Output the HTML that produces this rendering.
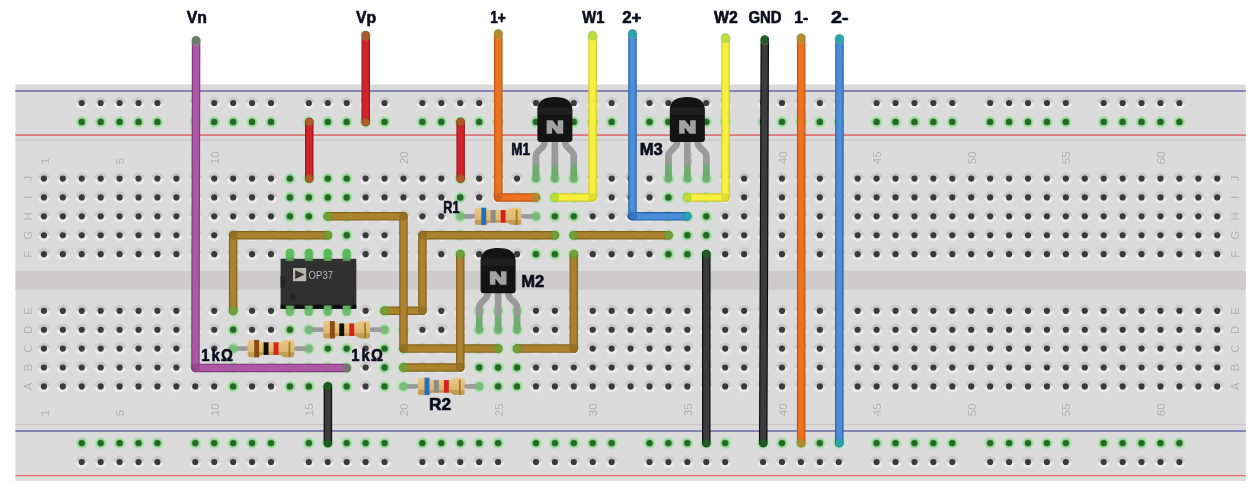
<!DOCTYPE html>
<html lang="en"><head><meta charset="utf-8"><title>Breadboard</title>
<style>html,body{margin:0;padding:0;background:#fff}svg{display:block;will-change:transform}</style></head>
<body>
<svg width="1260" height="496" viewBox="0 0 1260 496" font-family="'Liberation Sans', sans-serif">
<defs>
<linearGradient id="hg" x1="0" y1="0" x2="0" y2="1"><stop offset="0" stop-color="#c8c8c8"/><stop offset="0.4" stop-color="#cbcbcb"/><stop offset="0.6" stop-color="#ebebeb"/><stop offset="1" stop-color="#e9e9e9"/></linearGradient>
<radialGradient id="gg"><stop offset="0" stop-color="#6fbf6f"/><stop offset="0.6" stop-color="#98d098"/><stop offset="0.82" stop-color="#b9e0b9"/><stop offset="1" stop-color="#d6e2d6"/></radialGradient>
<g id="h"><circle r="6.1" fill="url(#hg)"/><circle r="3.1" fill="#3a3a3a"/></g>
<g id="g"><circle r="6.6" fill="url(#gg)"/><circle r="3.2" fill="#236b23"/></g>
<linearGradient id="rb" x1="0" y1="0" x2="0" y2="1"><stop offset="0" stop-color="#e9c682"/><stop offset="0.7" stop-color="#deb870"/><stop offset="0.72" stop-color="#c39c55"/><stop offset="1" stop-color="#c39c55"/></linearGradient>
<linearGradient id="leg" x1="0" y1="0" x2="0" y2="1"><stop offset="0" stop-color="#9a9a9a"/><stop offset="0.25" stop-color="#9a9a9a"/><stop offset="0.5" stop-color="#6fae6f"/><stop offset="1" stop-color="#6aaa6a"/></linearGradient>
</defs>
<rect width="1260" height="496" fill="#fff"/>
<rect x="15.4" y="84.4" width="1230.4" height="396.6" fill="#dbdbdb"/>
<rect x="15.4" y="271" width="1230.4" height="18.8" fill="#cdcbcb"/>
<rect x="15.4" y="139" width="1230.4" height="1.7" fill="#cccaca"/>
<rect x="15.4" y="423.9" width="1230.4" height="1.4" fill="#c9c6c8"/>
<rect x="15.4" y="90.25" width="1230.4" height="1.5" fill="#6868aa"/>
<rect x="15.4" y="430.25" width="1230.4" height="1.5" fill="#6868aa"/>
<rect x="15.4" y="134.25" width="1230.4" height="1.7" fill="#dc7472"/>
<rect x="15.4" y="474.95" width="1230.4" height="1.3" fill="#df7064"/>
<g font-size="11.5" fill="#b2b2b2"><text transform="translate(48.5,164.2) rotate(-90)">1</text><text transform="translate(48.5,416.2) rotate(-90)">1</text><text transform="translate(124.2,164.2) rotate(-90)">5</text><text transform="translate(124.2,416.2) rotate(-90)">5</text><text transform="translate(218.83,164.2) rotate(-90)">10</text><text transform="translate(218.83,416.2) rotate(-90)">10</text><text transform="translate(313.45,164.2) rotate(-90)">15</text><text transform="translate(313.45,416.2) rotate(-90)">15</text><text transform="translate(408.07,164.2) rotate(-90)">20</text><text transform="translate(408.07,416.2) rotate(-90)">20</text><text transform="translate(502.7,164.2) rotate(-90)">25</text><text transform="translate(502.7,416.2) rotate(-90)">25</text><text transform="translate(597.33,164.2) rotate(-90)">30</text><text transform="translate(597.33,416.2) rotate(-90)">30</text><text transform="translate(691.95,164.2) rotate(-90)">35</text><text transform="translate(691.95,416.2) rotate(-90)">35</text><text transform="translate(786.58,164.2) rotate(-90)">40</text><text transform="translate(786.58,416.2) rotate(-90)">40</text><text transform="translate(881.2,164.2) rotate(-90)">45</text><text transform="translate(881.2,416.2) rotate(-90)">45</text><text transform="translate(975.83,164.2) rotate(-90)">50</text><text transform="translate(975.83,416.2) rotate(-90)">50</text><text transform="translate(1070.45,164.2) rotate(-90)">55</text><text transform="translate(1070.45,416.2) rotate(-90)">55</text><text transform="translate(1165.08,164.2) rotate(-90)">60</text><text transform="translate(1165.08,416.2) rotate(-90)">60</text><text text-anchor="middle" transform="translate(31.5,178.58) rotate(-90)">J</text><text text-anchor="middle" transform="translate(1239.2,178.58) rotate(-90)">J</text><text text-anchor="middle" transform="translate(31.5,197.47) rotate(-90)">I</text><text text-anchor="middle" transform="translate(1239.2,197.47) rotate(-90)">I</text><text text-anchor="middle" transform="translate(31.5,216.36) rotate(-90)">H</text><text text-anchor="middle" transform="translate(1239.2,216.36) rotate(-90)">H</text><text text-anchor="middle" transform="translate(31.5,235.26) rotate(-90)">G</text><text text-anchor="middle" transform="translate(1239.2,235.26) rotate(-90)">G</text><text text-anchor="middle" transform="translate(31.5,254.15) rotate(-90)">F</text><text text-anchor="middle" transform="translate(1239.2,254.15) rotate(-90)">F</text><text text-anchor="middle" transform="translate(31.5,310.83) rotate(-90)">E</text><text text-anchor="middle" transform="translate(1239.2,310.83) rotate(-90)">E</text><text text-anchor="middle" transform="translate(31.5,329.73) rotate(-90)">D</text><text text-anchor="middle" transform="translate(1239.2,329.73) rotate(-90)">D</text><text text-anchor="middle" transform="translate(31.5,348.62) rotate(-90)">C</text><text text-anchor="middle" transform="translate(1239.2,348.62) rotate(-90)">C</text><text text-anchor="middle" transform="translate(31.5,367.52) rotate(-90)">B</text><text text-anchor="middle" transform="translate(1239.2,367.52) rotate(-90)">B</text><text text-anchor="middle" transform="translate(31.5,386.41) rotate(-90)">A</text><text text-anchor="middle" transform="translate(1239.2,386.41) rotate(-90)">A</text></g>
<g><use href="#h" x="81.75" y="103"/><use href="#g" x="81.75" y="121.89"/><use href="#g" x="81.75" y="443.09"/><use href="#h" x="81.75" y="461.99"/><use href="#h" x="100.68" y="103"/><use href="#g" x="100.68" y="121.89"/><use href="#g" x="100.68" y="443.09"/><use href="#h" x="100.68" y="461.99"/><use href="#h" x="119.6" y="103"/><use href="#g" x="119.6" y="121.89"/><use href="#g" x="119.6" y="443.09"/><use href="#h" x="119.6" y="461.99"/><use href="#h" x="138.53" y="103"/><use href="#g" x="138.53" y="121.89"/><use href="#g" x="138.53" y="443.09"/><use href="#h" x="138.53" y="461.99"/><use href="#h" x="157.45" y="103"/><use href="#g" x="157.45" y="121.89"/><use href="#g" x="157.45" y="443.09"/><use href="#h" x="157.45" y="461.99"/><use href="#h" x="195.3" y="103"/><use href="#g" x="195.3" y="121.89"/><use href="#g" x="195.3" y="443.09"/><use href="#h" x="195.3" y="461.99"/><use href="#h" x="214.23" y="103"/><use href="#g" x="214.23" y="121.89"/><use href="#g" x="214.23" y="443.09"/><use href="#h" x="214.23" y="461.99"/><use href="#h" x="233.15" y="103"/><use href="#g" x="233.15" y="121.89"/><use href="#g" x="233.15" y="443.09"/><use href="#h" x="233.15" y="461.99"/><use href="#h" x="252.08" y="103"/><use href="#g" x="252.08" y="121.89"/><use href="#g" x="252.08" y="443.09"/><use href="#h" x="252.08" y="461.99"/><use href="#h" x="271" y="103"/><use href="#g" x="271" y="121.89"/><use href="#g" x="271" y="443.09"/><use href="#h" x="271" y="461.99"/><use href="#h" x="308.85" y="103"/><use href="#g" x="308.85" y="121.89"/><use href="#g" x="308.85" y="443.09"/><use href="#h" x="308.85" y="461.99"/><use href="#h" x="327.77" y="103"/><use href="#g" x="327.77" y="121.89"/><use href="#g" x="327.77" y="443.09"/><use href="#h" x="327.77" y="461.99"/><use href="#h" x="346.7" y="103"/><use href="#g" x="346.7" y="121.89"/><use href="#g" x="346.7" y="443.09"/><use href="#h" x="346.7" y="461.99"/><use href="#h" x="365.62" y="103"/><use href="#g" x="365.62" y="121.89"/><use href="#g" x="365.62" y="443.09"/><use href="#h" x="365.62" y="461.99"/><use href="#h" x="384.55" y="103"/><use href="#g" x="384.55" y="121.89"/><use href="#g" x="384.55" y="443.09"/><use href="#h" x="384.55" y="461.99"/><use href="#h" x="422.4" y="103"/><use href="#g" x="422.4" y="121.89"/><use href="#g" x="422.4" y="443.09"/><use href="#h" x="422.4" y="461.99"/><use href="#h" x="441.32" y="103"/><use href="#g" x="441.32" y="121.89"/><use href="#g" x="441.32" y="443.09"/><use href="#h" x="441.32" y="461.99"/><use href="#h" x="460.25" y="103"/><use href="#g" x="460.25" y="121.89"/><use href="#g" x="460.25" y="443.09"/><use href="#h" x="460.25" y="461.99"/><use href="#h" x="479.18" y="103"/><use href="#g" x="479.18" y="121.89"/><use href="#g" x="479.18" y="443.09"/><use href="#h" x="479.18" y="461.99"/><use href="#h" x="498.1" y="103"/><use href="#g" x="498.1" y="121.89"/><use href="#g" x="498.1" y="443.09"/><use href="#h" x="498.1" y="461.99"/><use href="#h" x="535.95" y="103"/><use href="#g" x="535.95" y="121.89"/><use href="#g" x="535.95" y="443.09"/><use href="#h" x="535.95" y="461.99"/><use href="#h" x="554.88" y="103"/><use href="#g" x="554.88" y="121.89"/><use href="#g" x="554.88" y="443.09"/><use href="#h" x="554.88" y="461.99"/><use href="#h" x="573.8" y="103"/><use href="#g" x="573.8" y="121.89"/><use href="#g" x="573.8" y="443.09"/><use href="#h" x="573.8" y="461.99"/><use href="#h" x="592.73" y="103"/><use href="#g" x="592.73" y="121.89"/><use href="#g" x="592.73" y="443.09"/><use href="#h" x="592.73" y="461.99"/><use href="#h" x="611.65" y="103"/><use href="#g" x="611.65" y="121.89"/><use href="#g" x="611.65" y="443.09"/><use href="#h" x="611.65" y="461.99"/><use href="#h" x="649.5" y="103"/><use href="#g" x="649.5" y="121.89"/><use href="#g" x="649.5" y="443.09"/><use href="#h" x="649.5" y="461.99"/><use href="#h" x="668.42" y="103"/><use href="#g" x="668.42" y="121.89"/><use href="#g" x="668.42" y="443.09"/><use href="#h" x="668.42" y="461.99"/><use href="#h" x="687.35" y="103"/><use href="#g" x="687.35" y="121.89"/><use href="#g" x="687.35" y="443.09"/><use href="#h" x="687.35" y="461.99"/><use href="#h" x="706.27" y="103"/><use href="#g" x="706.27" y="121.89"/><use href="#g" x="706.27" y="443.09"/><use href="#h" x="706.27" y="461.99"/><use href="#h" x="725.2" y="103"/><use href="#g" x="725.2" y="121.89"/><use href="#g" x="725.2" y="443.09"/><use href="#h" x="725.2" y="461.99"/><use href="#h" x="763.05" y="103"/><use href="#g" x="763.05" y="121.89"/><use href="#g" x="763.05" y="443.09"/><use href="#h" x="763.05" y="461.99"/><use href="#h" x="781.98" y="103"/><use href="#g" x="781.98" y="121.89"/><use href="#g" x="781.98" y="443.09"/><use href="#h" x="781.98" y="461.99"/><use href="#h" x="800.9" y="103"/><use href="#g" x="800.9" y="121.89"/><use href="#g" x="800.9" y="443.09"/><use href="#h" x="800.9" y="461.99"/><use href="#h" x="819.83" y="103"/><use href="#g" x="819.83" y="121.89"/><use href="#g" x="819.83" y="443.09"/><use href="#h" x="819.83" y="461.99"/><use href="#h" x="838.75" y="103"/><use href="#g" x="838.75" y="121.89"/><use href="#g" x="838.75" y="443.09"/><use href="#h" x="838.75" y="461.99"/><use href="#h" x="876.6" y="103"/><use href="#g" x="876.6" y="121.89"/><use href="#g" x="876.6" y="443.09"/><use href="#h" x="876.6" y="461.99"/><use href="#h" x="895.52" y="103"/><use href="#g" x="895.52" y="121.89"/><use href="#g" x="895.52" y="443.09"/><use href="#h" x="895.52" y="461.99"/><use href="#h" x="914.45" y="103"/><use href="#g" x="914.45" y="121.89"/><use href="#g" x="914.45" y="443.09"/><use href="#h" x="914.45" y="461.99"/><use href="#h" x="933.38" y="103"/><use href="#g" x="933.38" y="121.89"/><use href="#g" x="933.38" y="443.09"/><use href="#h" x="933.38" y="461.99"/><use href="#h" x="952.3" y="103"/><use href="#g" x="952.3" y="121.89"/><use href="#g" x="952.3" y="443.09"/><use href="#h" x="952.3" y="461.99"/><use href="#h" x="990.15" y="103"/><use href="#g" x="990.15" y="121.89"/><use href="#g" x="990.15" y="443.09"/><use href="#h" x="990.15" y="461.99"/><use href="#h" x="1009.08" y="103"/><use href="#g" x="1009.08" y="121.89"/><use href="#g" x="1009.08" y="443.09"/><use href="#h" x="1009.08" y="461.99"/><use href="#h" x="1028" y="103"/><use href="#g" x="1028" y="121.89"/><use href="#g" x="1028" y="443.09"/><use href="#h" x="1028" y="461.99"/><use href="#h" x="1046.93" y="103"/><use href="#g" x="1046.93" y="121.89"/><use href="#g" x="1046.93" y="443.09"/><use href="#h" x="1046.93" y="461.99"/><use href="#h" x="1065.85" y="103"/><use href="#g" x="1065.85" y="121.89"/><use href="#g" x="1065.85" y="443.09"/><use href="#h" x="1065.85" y="461.99"/><use href="#h" x="1103.7" y="103"/><use href="#g" x="1103.7" y="121.89"/><use href="#g" x="1103.7" y="443.09"/><use href="#h" x="1103.7" y="461.99"/><use href="#h" x="1122.63" y="103"/><use href="#g" x="1122.63" y="121.89"/><use href="#g" x="1122.63" y="443.09"/><use href="#h" x="1122.63" y="461.99"/><use href="#h" x="1141.55" y="103"/><use href="#g" x="1141.55" y="121.89"/><use href="#g" x="1141.55" y="443.09"/><use href="#h" x="1141.55" y="461.99"/><use href="#h" x="1160.48" y="103"/><use href="#g" x="1160.48" y="121.89"/><use href="#g" x="1160.48" y="443.09"/><use href="#h" x="1160.48" y="461.99"/><use href="#h" x="1179.4" y="103"/><use href="#g" x="1179.4" y="121.89"/><use href="#g" x="1179.4" y="443.09"/><use href="#h" x="1179.4" y="461.99"/><use href="#h" x="43.9" y="178.58"/><use href="#h" x="43.9" y="197.47"/><use href="#h" x="43.9" y="216.36"/><use href="#h" x="43.9" y="235.26"/><use href="#h" x="43.9" y="254.15"/><use href="#h" x="43.9" y="310.83"/><use href="#h" x="43.9" y="329.73"/><use href="#h" x="43.9" y="348.62"/><use href="#h" x="43.9" y="367.52"/><use href="#h" x="43.9" y="386.41"/><use href="#h" x="62.83" y="178.58"/><use href="#h" x="62.83" y="197.47"/><use href="#h" x="62.83" y="216.36"/><use href="#h" x="62.83" y="235.26"/><use href="#h" x="62.83" y="254.15"/><use href="#h" x="62.83" y="310.83"/><use href="#h" x="62.83" y="329.73"/><use href="#h" x="62.83" y="348.62"/><use href="#h" x="62.83" y="367.52"/><use href="#h" x="62.83" y="386.41"/><use href="#h" x="81.75" y="178.58"/><use href="#h" x="81.75" y="197.47"/><use href="#h" x="81.75" y="216.36"/><use href="#h" x="81.75" y="235.26"/><use href="#h" x="81.75" y="254.15"/><use href="#h" x="81.75" y="310.83"/><use href="#h" x="81.75" y="329.73"/><use href="#h" x="81.75" y="348.62"/><use href="#h" x="81.75" y="367.52"/><use href="#h" x="81.75" y="386.41"/><use href="#h" x="100.68" y="178.58"/><use href="#h" x="100.68" y="197.47"/><use href="#h" x="100.68" y="216.36"/><use href="#h" x="100.68" y="235.26"/><use href="#h" x="100.68" y="254.15"/><use href="#h" x="100.68" y="310.83"/><use href="#h" x="100.68" y="329.73"/><use href="#h" x="100.68" y="348.62"/><use href="#h" x="100.68" y="367.52"/><use href="#h" x="100.68" y="386.41"/><use href="#h" x="119.6" y="178.58"/><use href="#h" x="119.6" y="197.47"/><use href="#h" x="119.6" y="216.36"/><use href="#h" x="119.6" y="235.26"/><use href="#h" x="119.6" y="254.15"/><use href="#h" x="119.6" y="310.83"/><use href="#h" x="119.6" y="329.73"/><use href="#h" x="119.6" y="348.62"/><use href="#h" x="119.6" y="367.52"/><use href="#h" x="119.6" y="386.41"/><use href="#h" x="138.53" y="178.58"/><use href="#h" x="138.53" y="197.47"/><use href="#h" x="138.53" y="216.36"/><use href="#h" x="138.53" y="235.26"/><use href="#h" x="138.53" y="254.15"/><use href="#h" x="138.53" y="310.83"/><use href="#h" x="138.53" y="329.73"/><use href="#h" x="138.53" y="348.62"/><use href="#h" x="138.53" y="367.52"/><use href="#h" x="138.53" y="386.41"/><use href="#h" x="157.45" y="178.58"/><use href="#h" x="157.45" y="197.47"/><use href="#h" x="157.45" y="216.36"/><use href="#h" x="157.45" y="235.26"/><use href="#h" x="157.45" y="254.15"/><use href="#h" x="157.45" y="310.83"/><use href="#h" x="157.45" y="329.73"/><use href="#h" x="157.45" y="348.62"/><use href="#h" x="157.45" y="367.52"/><use href="#h" x="157.45" y="386.41"/><use href="#h" x="176.38" y="178.58"/><use href="#h" x="176.38" y="197.47"/><use href="#h" x="176.38" y="216.36"/><use href="#h" x="176.38" y="235.26"/><use href="#h" x="176.38" y="254.15"/><use href="#h" x="176.38" y="310.83"/><use href="#h" x="176.38" y="329.73"/><use href="#h" x="176.38" y="348.62"/><use href="#h" x="176.38" y="367.52"/><use href="#h" x="176.38" y="386.41"/><use href="#h" x="195.3" y="178.58"/><use href="#h" x="195.3" y="197.47"/><use href="#h" x="195.3" y="216.36"/><use href="#h" x="195.3" y="235.26"/><use href="#h" x="195.3" y="254.15"/><use href="#h" x="195.3" y="310.83"/><use href="#h" x="195.3" y="329.73"/><use href="#h" x="195.3" y="348.62"/><use href="#h" x="195.3" y="367.52"/><use href="#h" x="195.3" y="386.41"/><use href="#h" x="214.23" y="178.58"/><use href="#h" x="214.23" y="197.47"/><use href="#h" x="214.23" y="216.36"/><use href="#h" x="214.23" y="235.26"/><use href="#h" x="214.23" y="254.15"/><use href="#h" x="214.23" y="310.83"/><use href="#h" x="214.23" y="329.73"/><use href="#h" x="214.23" y="348.62"/><use href="#h" x="214.23" y="367.52"/><use href="#h" x="214.23" y="386.41"/><use href="#h" x="233.15" y="178.58"/><use href="#h" x="233.15" y="197.47"/><use href="#h" x="233.15" y="216.36"/><use href="#h" x="233.15" y="235.26"/><use href="#h" x="233.15" y="254.15"/><use href="#g" x="233.15" y="310.83"/><use href="#g" x="233.15" y="329.73"/><use href="#g" x="233.15" y="348.62"/><use href="#g" x="233.15" y="367.52"/><use href="#g" x="233.15" y="386.41"/><use href="#h" x="252.08" y="178.58"/><use href="#h" x="252.08" y="197.47"/><use href="#h" x="252.08" y="216.36"/><use href="#h" x="252.08" y="235.26"/><use href="#h" x="252.08" y="254.15"/><use href="#h" x="252.08" y="310.83"/><use href="#h" x="252.08" y="329.73"/><use href="#h" x="252.08" y="348.62"/><use href="#h" x="252.08" y="367.52"/><use href="#h" x="252.08" y="386.41"/><use href="#h" x="271" y="178.58"/><use href="#h" x="271" y="197.47"/><use href="#h" x="271" y="216.36"/><use href="#h" x="271" y="235.26"/><use href="#h" x="271" y="254.15"/><use href="#h" x="271" y="310.83"/><use href="#h" x="271" y="329.73"/><use href="#h" x="271" y="348.62"/><use href="#h" x="271" y="367.52"/><use href="#h" x="271" y="386.41"/><use href="#g" x="289.93" y="178.58"/><use href="#g" x="289.93" y="197.47"/><use href="#g" x="289.93" y="216.36"/><use href="#g" x="289.93" y="235.26"/><use href="#g" x="289.93" y="254.15"/><use href="#g" x="289.93" y="310.83"/><use href="#g" x="289.93" y="329.73"/><use href="#g" x="289.93" y="348.62"/><use href="#g" x="289.93" y="367.52"/><use href="#g" x="289.93" y="386.41"/><use href="#g" x="308.85" y="178.58"/><use href="#g" x="308.85" y="197.47"/><use href="#g" x="308.85" y="216.36"/><use href="#g" x="308.85" y="235.26"/><use href="#g" x="308.85" y="254.15"/><use href="#g" x="308.85" y="310.83"/><use href="#g" x="308.85" y="329.73"/><use href="#g" x="308.85" y="348.62"/><use href="#g" x="308.85" y="367.52"/><use href="#g" x="308.85" y="386.41"/><use href="#g" x="327.77" y="178.58"/><use href="#g" x="327.77" y="197.47"/><use href="#g" x="327.77" y="216.36"/><use href="#g" x="327.77" y="235.26"/><use href="#g" x="327.77" y="254.15"/><use href="#g" x="327.77" y="310.83"/><use href="#g" x="327.77" y="329.73"/><use href="#g" x="327.77" y="348.62"/><use href="#g" x="327.77" y="367.52"/><use href="#g" x="327.77" y="386.41"/><use href="#g" x="346.7" y="178.58"/><use href="#g" x="346.7" y="197.47"/><use href="#g" x="346.7" y="216.36"/><use href="#g" x="346.7" y="235.26"/><use href="#g" x="346.7" y="254.15"/><use href="#g" x="346.7" y="310.83"/><use href="#g" x="346.7" y="329.73"/><use href="#g" x="346.7" y="348.62"/><use href="#g" x="346.7" y="367.52"/><use href="#g" x="346.7" y="386.41"/><use href="#h" x="365.62" y="178.58"/><use href="#h" x="365.62" y="197.47"/><use href="#h" x="365.62" y="216.36"/><use href="#h" x="365.62" y="235.26"/><use href="#h" x="365.62" y="254.15"/><use href="#h" x="365.62" y="310.83"/><use href="#h" x="365.62" y="329.73"/><use href="#h" x="365.62" y="348.62"/><use href="#h" x="365.62" y="367.52"/><use href="#h" x="365.62" y="386.41"/><use href="#h" x="384.55" y="178.58"/><use href="#h" x="384.55" y="197.47"/><use href="#h" x="384.55" y="216.36"/><use href="#h" x="384.55" y="235.26"/><use href="#h" x="384.55" y="254.15"/><use href="#g" x="384.55" y="310.83"/><use href="#g" x="384.55" y="329.73"/><use href="#g" x="384.55" y="348.62"/><use href="#g" x="384.55" y="367.52"/><use href="#g" x="384.55" y="386.41"/><use href="#h" x="403.47" y="178.58"/><use href="#h" x="403.47" y="197.47"/><use href="#h" x="403.47" y="216.36"/><use href="#h" x="403.47" y="235.26"/><use href="#h" x="403.47" y="254.15"/><use href="#g" x="403.47" y="310.83"/><use href="#g" x="403.47" y="329.73"/><use href="#g" x="403.47" y="348.62"/><use href="#g" x="403.47" y="367.52"/><use href="#g" x="403.47" y="386.41"/><use href="#h" x="422.4" y="178.58"/><use href="#h" x="422.4" y="197.47"/><use href="#h" x="422.4" y="216.36"/><use href="#h" x="422.4" y="235.26"/><use href="#h" x="422.4" y="254.15"/><use href="#h" x="422.4" y="310.83"/><use href="#h" x="422.4" y="329.73"/><use href="#h" x="422.4" y="348.62"/><use href="#h" x="422.4" y="367.52"/><use href="#h" x="422.4" y="386.41"/><use href="#h" x="441.32" y="178.58"/><use href="#h" x="441.32" y="197.47"/><use href="#h" x="441.32" y="216.36"/><use href="#h" x="441.32" y="235.26"/><use href="#h" x="441.32" y="254.15"/><use href="#h" x="441.32" y="310.83"/><use href="#h" x="441.32" y="329.73"/><use href="#h" x="441.32" y="348.62"/><use href="#h" x="441.32" y="367.52"/><use href="#h" x="441.32" y="386.41"/><use href="#g" x="460.25" y="178.58"/><use href="#g" x="460.25" y="197.47"/><use href="#g" x="460.25" y="216.36"/><use href="#g" x="460.25" y="235.26"/><use href="#g" x="460.25" y="254.15"/><use href="#h" x="460.25" y="310.83"/><use href="#h" x="460.25" y="329.73"/><use href="#h" x="460.25" y="348.62"/><use href="#h" x="460.25" y="367.52"/><use href="#h" x="460.25" y="386.41"/><use href="#h" x="479.18" y="178.58"/><use href="#h" x="479.18" y="197.47"/><use href="#h" x="479.18" y="216.36"/><use href="#h" x="479.18" y="235.26"/><use href="#h" x="479.18" y="254.15"/><use href="#g" x="479.18" y="310.83"/><use href="#g" x="479.18" y="329.73"/><use href="#g" x="479.18" y="348.62"/><use href="#g" x="479.18" y="367.52"/><use href="#g" x="479.18" y="386.41"/><use href="#h" x="498.1" y="178.58"/><use href="#h" x="498.1" y="197.47"/><use href="#h" x="498.1" y="216.36"/><use href="#h" x="498.1" y="235.26"/><use href="#h" x="498.1" y="254.15"/><use href="#g" x="498.1" y="310.83"/><use href="#g" x="498.1" y="329.73"/><use href="#g" x="498.1" y="348.62"/><use href="#g" x="498.1" y="367.52"/><use href="#g" x="498.1" y="386.41"/><use href="#h" x="517.02" y="178.58"/><use href="#h" x="517.02" y="197.47"/><use href="#h" x="517.02" y="216.36"/><use href="#h" x="517.02" y="235.26"/><use href="#h" x="517.02" y="254.15"/><use href="#g" x="517.02" y="310.83"/><use href="#g" x="517.02" y="329.73"/><use href="#g" x="517.02" y="348.62"/><use href="#g" x="517.02" y="367.52"/><use href="#g" x="517.02" y="386.41"/><use href="#g" x="535.95" y="178.58"/><use href="#g" x="535.95" y="197.47"/><use href="#g" x="535.95" y="216.36"/><use href="#g" x="535.95" y="235.26"/><use href="#g" x="535.95" y="254.15"/><use href="#h" x="535.95" y="310.83"/><use href="#h" x="535.95" y="329.73"/><use href="#h" x="535.95" y="348.62"/><use href="#h" x="535.95" y="367.52"/><use href="#h" x="535.95" y="386.41"/><use href="#g" x="554.88" y="178.58"/><use href="#g" x="554.88" y="197.47"/><use href="#g" x="554.88" y="216.36"/><use href="#g" x="554.88" y="235.26"/><use href="#g" x="554.88" y="254.15"/><use href="#h" x="554.88" y="310.83"/><use href="#h" x="554.88" y="329.73"/><use href="#h" x="554.88" y="348.62"/><use href="#h" x="554.88" y="367.52"/><use href="#h" x="554.88" y="386.41"/><use href="#g" x="573.8" y="178.58"/><use href="#g" x="573.8" y="197.47"/><use href="#g" x="573.8" y="216.36"/><use href="#g" x="573.8" y="235.26"/><use href="#g" x="573.8" y="254.15"/><use href="#h" x="573.8" y="310.83"/><use href="#h" x="573.8" y="329.73"/><use href="#h" x="573.8" y="348.62"/><use href="#h" x="573.8" y="367.52"/><use href="#h" x="573.8" y="386.41"/><use href="#h" x="592.73" y="178.58"/><use href="#h" x="592.73" y="197.47"/><use href="#h" x="592.73" y="216.36"/><use href="#h" x="592.73" y="235.26"/><use href="#h" x="592.73" y="254.15"/><use href="#h" x="592.73" y="310.83"/><use href="#h" x="592.73" y="329.73"/><use href="#h" x="592.73" y="348.62"/><use href="#h" x="592.73" y="367.52"/><use href="#h" x="592.73" y="386.41"/><use href="#h" x="611.65" y="178.58"/><use href="#h" x="611.65" y="197.47"/><use href="#h" x="611.65" y="216.36"/><use href="#h" x="611.65" y="235.26"/><use href="#h" x="611.65" y="254.15"/><use href="#h" x="611.65" y="310.83"/><use href="#h" x="611.65" y="329.73"/><use href="#h" x="611.65" y="348.62"/><use href="#h" x="611.65" y="367.52"/><use href="#h" x="611.65" y="386.41"/><use href="#h" x="630.58" y="178.58"/><use href="#h" x="630.58" y="197.47"/><use href="#h" x="630.58" y="216.36"/><use href="#h" x="630.58" y="235.26"/><use href="#h" x="630.58" y="254.15"/><use href="#h" x="630.58" y="310.83"/><use href="#h" x="630.58" y="329.73"/><use href="#h" x="630.58" y="348.62"/><use href="#h" x="630.58" y="367.52"/><use href="#h" x="630.58" y="386.41"/><use href="#h" x="649.5" y="178.58"/><use href="#h" x="649.5" y="197.47"/><use href="#h" x="649.5" y="216.36"/><use href="#h" x="649.5" y="235.26"/><use href="#h" x="649.5" y="254.15"/><use href="#h" x="649.5" y="310.83"/><use href="#h" x="649.5" y="329.73"/><use href="#h" x="649.5" y="348.62"/><use href="#h" x="649.5" y="367.52"/><use href="#h" x="649.5" y="386.41"/><use href="#g" x="668.42" y="178.58"/><use href="#g" x="668.42" y="197.47"/><use href="#g" x="668.42" y="216.36"/><use href="#g" x="668.42" y="235.26"/><use href="#g" x="668.42" y="254.15"/><use href="#h" x="668.42" y="310.83"/><use href="#h" x="668.42" y="329.73"/><use href="#h" x="668.42" y="348.62"/><use href="#h" x="668.42" y="367.52"/><use href="#h" x="668.42" y="386.41"/><use href="#g" x="687.35" y="178.58"/><use href="#g" x="687.35" y="197.47"/><use href="#g" x="687.35" y="216.36"/><use href="#g" x="687.35" y="235.26"/><use href="#g" x="687.35" y="254.15"/><use href="#h" x="687.35" y="310.83"/><use href="#h" x="687.35" y="329.73"/><use href="#h" x="687.35" y="348.62"/><use href="#h" x="687.35" y="367.52"/><use href="#h" x="687.35" y="386.41"/><use href="#g" x="706.27" y="178.58"/><use href="#g" x="706.27" y="197.47"/><use href="#g" x="706.27" y="216.36"/><use href="#g" x="706.27" y="235.26"/><use href="#g" x="706.27" y="254.15"/><use href="#h" x="706.27" y="310.83"/><use href="#h" x="706.27" y="329.73"/><use href="#h" x="706.27" y="348.62"/><use href="#h" x="706.27" y="367.52"/><use href="#h" x="706.27" y="386.41"/><use href="#h" x="725.2" y="178.58"/><use href="#h" x="725.2" y="197.47"/><use href="#h" x="725.2" y="216.36"/><use href="#h" x="725.2" y="235.26"/><use href="#h" x="725.2" y="254.15"/><use href="#h" x="725.2" y="310.83"/><use href="#h" x="725.2" y="329.73"/><use href="#h" x="725.2" y="348.62"/><use href="#h" x="725.2" y="367.52"/><use href="#h" x="725.2" y="386.41"/><use href="#h" x="744.12" y="178.58"/><use href="#h" x="744.12" y="197.47"/><use href="#h" x="744.12" y="216.36"/><use href="#h" x="744.12" y="235.26"/><use href="#h" x="744.12" y="254.15"/><use href="#h" x="744.12" y="310.83"/><use href="#h" x="744.12" y="329.73"/><use href="#h" x="744.12" y="348.62"/><use href="#h" x="744.12" y="367.52"/><use href="#h" x="744.12" y="386.41"/><use href="#h" x="763.05" y="178.58"/><use href="#h" x="763.05" y="197.47"/><use href="#h" x="763.05" y="216.36"/><use href="#h" x="763.05" y="235.26"/><use href="#h" x="763.05" y="254.15"/><use href="#h" x="763.05" y="310.83"/><use href="#h" x="763.05" y="329.73"/><use href="#h" x="763.05" y="348.62"/><use href="#h" x="763.05" y="367.52"/><use href="#h" x="763.05" y="386.41"/><use href="#h" x="781.98" y="178.58"/><use href="#h" x="781.98" y="197.47"/><use href="#h" x="781.98" y="216.36"/><use href="#h" x="781.98" y="235.26"/><use href="#h" x="781.98" y="254.15"/><use href="#h" x="781.98" y="310.83"/><use href="#h" x="781.98" y="329.73"/><use href="#h" x="781.98" y="348.62"/><use href="#h" x="781.98" y="367.52"/><use href="#h" x="781.98" y="386.41"/><use href="#h" x="800.9" y="178.58"/><use href="#h" x="800.9" y="197.47"/><use href="#h" x="800.9" y="216.36"/><use href="#h" x="800.9" y="235.26"/><use href="#h" x="800.9" y="254.15"/><use href="#h" x="800.9" y="310.83"/><use href="#h" x="800.9" y="329.73"/><use href="#h" x="800.9" y="348.62"/><use href="#h" x="800.9" y="367.52"/><use href="#h" x="800.9" y="386.41"/><use href="#h" x="819.83" y="178.58"/><use href="#h" x="819.83" y="197.47"/><use href="#h" x="819.83" y="216.36"/><use href="#h" x="819.83" y="235.26"/><use href="#h" x="819.83" y="254.15"/><use href="#h" x="819.83" y="310.83"/><use href="#h" x="819.83" y="329.73"/><use href="#h" x="819.83" y="348.62"/><use href="#h" x="819.83" y="367.52"/><use href="#h" x="819.83" y="386.41"/><use href="#h" x="838.75" y="178.58"/><use href="#h" x="838.75" y="197.47"/><use href="#h" x="838.75" y="216.36"/><use href="#h" x="838.75" y="235.26"/><use href="#h" x="838.75" y="254.15"/><use href="#h" x="838.75" y="310.83"/><use href="#h" x="838.75" y="329.73"/><use href="#h" x="838.75" y="348.62"/><use href="#h" x="838.75" y="367.52"/><use href="#h" x="838.75" y="386.41"/><use href="#h" x="857.67" y="178.58"/><use href="#h" x="857.67" y="197.47"/><use href="#h" x="857.67" y="216.36"/><use href="#h" x="857.67" y="235.26"/><use href="#h" x="857.67" y="254.15"/><use href="#h" x="857.67" y="310.83"/><use href="#h" x="857.67" y="329.73"/><use href="#h" x="857.67" y="348.62"/><use href="#h" x="857.67" y="367.52"/><use href="#h" x="857.67" y="386.41"/><use href="#h" x="876.6" y="178.58"/><use href="#h" x="876.6" y="197.47"/><use href="#h" x="876.6" y="216.36"/><use href="#h" x="876.6" y="235.26"/><use href="#h" x="876.6" y="254.15"/><use href="#h" x="876.6" y="310.83"/><use href="#h" x="876.6" y="329.73"/><use href="#h" x="876.6" y="348.62"/><use href="#h" x="876.6" y="367.52"/><use href="#h" x="876.6" y="386.41"/><use href="#h" x="895.52" y="178.58"/><use href="#h" x="895.52" y="197.47"/><use href="#h" x="895.52" y="216.36"/><use href="#h" x="895.52" y="235.26"/><use href="#h" x="895.52" y="254.15"/><use href="#h" x="895.52" y="310.83"/><use href="#h" x="895.52" y="329.73"/><use href="#h" x="895.52" y="348.62"/><use href="#h" x="895.52" y="367.52"/><use href="#h" x="895.52" y="386.41"/><use href="#h" x="914.45" y="178.58"/><use href="#h" x="914.45" y="197.47"/><use href="#h" x="914.45" y="216.36"/><use href="#h" x="914.45" y="235.26"/><use href="#h" x="914.45" y="254.15"/><use href="#h" x="914.45" y="310.83"/><use href="#h" x="914.45" y="329.73"/><use href="#h" x="914.45" y="348.62"/><use href="#h" x="914.45" y="367.52"/><use href="#h" x="914.45" y="386.41"/><use href="#h" x="933.38" y="178.58"/><use href="#h" x="933.38" y="197.47"/><use href="#h" x="933.38" y="216.36"/><use href="#h" x="933.38" y="235.26"/><use href="#h" x="933.38" y="254.15"/><use href="#h" x="933.38" y="310.83"/><use href="#h" x="933.38" y="329.73"/><use href="#h" x="933.38" y="348.62"/><use href="#h" x="933.38" y="367.52"/><use href="#h" x="933.38" y="386.41"/><use href="#h" x="952.3" y="178.58"/><use href="#h" x="952.3" y="197.47"/><use href="#h" x="952.3" y="216.36"/><use href="#h" x="952.3" y="235.26"/><use href="#h" x="952.3" y="254.15"/><use href="#h" x="952.3" y="310.83"/><use href="#h" x="952.3" y="329.73"/><use href="#h" x="952.3" y="348.62"/><use href="#h" x="952.3" y="367.52"/><use href="#h" x="952.3" y="386.41"/><use href="#h" x="971.23" y="178.58"/><use href="#h" x="971.23" y="197.47"/><use href="#h" x="971.23" y="216.36"/><use href="#h" x="971.23" y="235.26"/><use href="#h" x="971.23" y="254.15"/><use href="#h" x="971.23" y="310.83"/><use href="#h" x="971.23" y="329.73"/><use href="#h" x="971.23" y="348.62"/><use href="#h" x="971.23" y="367.52"/><use href="#h" x="971.23" y="386.41"/><use href="#h" x="990.15" y="178.58"/><use href="#h" x="990.15" y="197.47"/><use href="#h" x="990.15" y="216.36"/><use href="#h" x="990.15" y="235.26"/><use href="#h" x="990.15" y="254.15"/><use href="#h" x="990.15" y="310.83"/><use href="#h" x="990.15" y="329.73"/><use href="#h" x="990.15" y="348.62"/><use href="#h" x="990.15" y="367.52"/><use href="#h" x="990.15" y="386.41"/><use href="#h" x="1009.08" y="178.58"/><use href="#h" x="1009.08" y="197.47"/><use href="#h" x="1009.08" y="216.36"/><use href="#h" x="1009.08" y="235.26"/><use href="#h" x="1009.08" y="254.15"/><use href="#h" x="1009.08" y="310.83"/><use href="#h" x="1009.08" y="329.73"/><use href="#h" x="1009.08" y="348.62"/><use href="#h" x="1009.08" y="367.52"/><use href="#h" x="1009.08" y="386.41"/><use href="#h" x="1028" y="178.58"/><use href="#h" x="1028" y="197.47"/><use href="#h" x="1028" y="216.36"/><use href="#h" x="1028" y="235.26"/><use href="#h" x="1028" y="254.15"/><use href="#h" x="1028" y="310.83"/><use href="#h" x="1028" y="329.73"/><use href="#h" x="1028" y="348.62"/><use href="#h" x="1028" y="367.52"/><use href="#h" x="1028" y="386.41"/><use href="#h" x="1046.93" y="178.58"/><use href="#h" x="1046.93" y="197.47"/><use href="#h" x="1046.93" y="216.36"/><use href="#h" x="1046.93" y="235.26"/><use href="#h" x="1046.93" y="254.15"/><use href="#h" x="1046.93" y="310.83"/><use href="#h" x="1046.93" y="329.73"/><use href="#h" x="1046.93" y="348.62"/><use href="#h" x="1046.93" y="367.52"/><use href="#h" x="1046.93" y="386.41"/><use href="#h" x="1065.85" y="178.58"/><use href="#h" x="1065.85" y="197.47"/><use href="#h" x="1065.85" y="216.36"/><use href="#h" x="1065.85" y="235.26"/><use href="#h" x="1065.85" y="254.15"/><use href="#h" x="1065.85" y="310.83"/><use href="#h" x="1065.85" y="329.73"/><use href="#h" x="1065.85" y="348.62"/><use href="#h" x="1065.85" y="367.52"/><use href="#h" x="1065.85" y="386.41"/><use href="#h" x="1084.78" y="178.58"/><use href="#h" x="1084.78" y="197.47"/><use href="#h" x="1084.78" y="216.36"/><use href="#h" x="1084.78" y="235.26"/><use href="#h" x="1084.78" y="254.15"/><use href="#h" x="1084.78" y="310.83"/><use href="#h" x="1084.78" y="329.73"/><use href="#h" x="1084.78" y="348.62"/><use href="#h" x="1084.78" y="367.52"/><use href="#h" x="1084.78" y="386.41"/><use href="#h" x="1103.7" y="178.58"/><use href="#h" x="1103.7" y="197.47"/><use href="#h" x="1103.7" y="216.36"/><use href="#h" x="1103.7" y="235.26"/><use href="#h" x="1103.7" y="254.15"/><use href="#h" x="1103.7" y="310.83"/><use href="#h" x="1103.7" y="329.73"/><use href="#h" x="1103.7" y="348.62"/><use href="#h" x="1103.7" y="367.52"/><use href="#h" x="1103.7" y="386.41"/><use href="#h" x="1122.63" y="178.58"/><use href="#h" x="1122.63" y="197.47"/><use href="#h" x="1122.63" y="216.36"/><use href="#h" x="1122.63" y="235.26"/><use href="#h" x="1122.63" y="254.15"/><use href="#h" x="1122.63" y="310.83"/><use href="#h" x="1122.63" y="329.73"/><use href="#h" x="1122.63" y="348.62"/><use href="#h" x="1122.63" y="367.52"/><use href="#h" x="1122.63" y="386.41"/><use href="#h" x="1141.55" y="178.58"/><use href="#h" x="1141.55" y="197.47"/><use href="#h" x="1141.55" y="216.36"/><use href="#h" x="1141.55" y="235.26"/><use href="#h" x="1141.55" y="254.15"/><use href="#h" x="1141.55" y="310.83"/><use href="#h" x="1141.55" y="329.73"/><use href="#h" x="1141.55" y="348.62"/><use href="#h" x="1141.55" y="367.52"/><use href="#h" x="1141.55" y="386.41"/><use href="#h" x="1160.48" y="178.58"/><use href="#h" x="1160.48" y="197.47"/><use href="#h" x="1160.48" y="216.36"/><use href="#h" x="1160.48" y="235.26"/><use href="#h" x="1160.48" y="254.15"/><use href="#h" x="1160.48" y="310.83"/><use href="#h" x="1160.48" y="329.73"/><use href="#h" x="1160.48" y="348.62"/><use href="#h" x="1160.48" y="367.52"/><use href="#h" x="1160.48" y="386.41"/><use href="#h" x="1179.4" y="178.58"/><use href="#h" x="1179.4" y="197.47"/><use href="#h" x="1179.4" y="216.36"/><use href="#h" x="1179.4" y="235.26"/><use href="#h" x="1179.4" y="254.15"/><use href="#h" x="1179.4" y="310.83"/><use href="#h" x="1179.4" y="329.73"/><use href="#h" x="1179.4" y="348.62"/><use href="#h" x="1179.4" y="367.52"/><use href="#h" x="1179.4" y="386.41"/><use href="#h" x="1198.33" y="178.58"/><use href="#h" x="1198.33" y="197.47"/><use href="#h" x="1198.33" y="216.36"/><use href="#h" x="1198.33" y="235.26"/><use href="#h" x="1198.33" y="254.15"/><use href="#h" x="1198.33" y="310.83"/><use href="#h" x="1198.33" y="329.73"/><use href="#h" x="1198.33" y="348.62"/><use href="#h" x="1198.33" y="367.52"/><use href="#h" x="1198.33" y="386.41"/><use href="#h" x="1217.25" y="178.58"/><use href="#h" x="1217.25" y="197.47"/><use href="#h" x="1217.25" y="216.36"/><use href="#h" x="1217.25" y="235.26"/><use href="#h" x="1217.25" y="254.15"/><use href="#h" x="1217.25" y="310.83"/><use href="#h" x="1217.25" y="329.73"/><use href="#h" x="1217.25" y="348.62"/><use href="#h" x="1217.25" y="367.52"/><use href="#h" x="1217.25" y="386.41"/></g>
<g>
<line x1="233.15" y1="348.62" x2="308.85" y2="348.62" stroke="#9b9b9b" stroke-width="4.4" stroke-linecap="round"/><circle cx="233.15" cy="348.62" r="3.9" fill="#7abb7a"/><circle cx="308.85" cy="348.62" r="3.9" fill="#7abb7a"/><line x1="237.15" y1="348.62" x2="245.15" y2="348.62" stroke="#9b9b9b" stroke-width="4.4"/><line x1="304.85" y1="348.62" x2="296.85" y2="348.62" stroke="#9b9b9b" stroke-width="4.4"/><path d="M249.7,339.92 L256.7,339.92 C259.7,339.92 259.7,342.32 262.7,342.32 L279.3,342.32 C282.3,342.32 282.3,339.92 285.3,339.92 L292.3,339.92 Q294.3,339.92 294.3,341.92 L294.3,355.32 Q294.3,357.32 292.3,357.32 L285.3,357.32 C282.3,357.32 282.3,354.92 279.3,354.92 L262.7,354.92 C259.7,354.92 259.7,357.32 256.7,357.32 L249.7,357.32 Q247.7,357.32 247.7,355.32 L247.7,341.92 Q247.7,339.92 249.7,339.92 Z" fill="url(#rb)"/><rect x="254.2" y="339.92" width="4.9" height="17.4" fill="#8b4a16"/><rect x="263.6" y="342.32" width="4.9" height="12.6" fill="#111"/><rect x="273.6" y="342.32" width="4.9" height="12.6" fill="#d42222"/><rect x="288.6" y="341.92" width="1.7" height="15.4" fill="#9c7a22"/>
<line x1="308.85" y1="329.73" x2="384.55" y2="329.73" stroke="#9b9b9b" stroke-width="4.4" stroke-linecap="round"/><circle cx="308.85" cy="329.73" r="3.9" fill="#7abb7a"/><circle cx="384.55" cy="329.73" r="3.9" fill="#7abb7a"/><line x1="312.85" y1="329.73" x2="320.85" y2="329.73" stroke="#9b9b9b" stroke-width="4.4"/><line x1="380.55" y1="329.73" x2="372.55" y2="329.73" stroke="#9b9b9b" stroke-width="4.4"/><path d="M325.4,321.03 L332.4,321.03 C335.4,321.03 335.4,323.43 338.4,323.43 L355,323.43 C358,323.43 358,321.03 361,321.03 L368,321.03 Q370,321.03 370,323.03 L370,336.43 Q370,338.43 368,338.43 L361,338.43 C358,338.43 358,336.03 355,336.03 L338.4,336.03 C335.4,336.03 335.4,338.43 332.4,338.43 L325.4,338.43 Q323.4,338.43 323.4,336.43 L323.4,323.03 Q323.4,321.03 325.4,321.03 Z" fill="url(#rb)"/><rect x="329.9" y="321.03" width="4.9" height="17.4" fill="#8b4a16"/><rect x="339.3" y="323.43" width="4.9" height="12.6" fill="#111"/><rect x="349.3" y="323.43" width="4.9" height="12.6" fill="#d42222"/><rect x="364.3" y="323.03" width="1.7" height="15.4" fill="#9c7a22"/>
<line x1="460.25" y1="216.36" x2="535.95" y2="216.36" stroke="#9b9b9b" stroke-width="4.4" stroke-linecap="round"/><circle cx="460.25" cy="216.36" r="3.9" fill="#7abb7a"/><circle cx="535.95" cy="216.36" r="3.9" fill="#7abb7a"/><line x1="464.25" y1="216.36" x2="472.25" y2="216.36" stroke="#9b9b9b" stroke-width="4.4"/><line x1="531.95" y1="216.36" x2="523.95" y2="216.36" stroke="#9b9b9b" stroke-width="4.4"/><path d="M476.8,207.66 L483.8,207.66 C486.8,207.66 486.8,210.06 489.8,210.06 L506.4,210.06 C509.4,210.06 509.4,207.66 512.4,207.66 L519.4,207.66 Q521.4,207.66 521.4,209.66 L521.4,223.06 Q521.4,225.06 519.4,225.06 L512.4,225.06 C509.4,225.06 509.4,222.66 506.4,222.66 L489.8,222.66 C486.8,222.66 486.8,225.06 483.8,225.06 L476.8,225.06 Q474.8,225.06 474.8,223.06 L474.8,209.66 Q474.8,207.66 476.8,207.66 Z" fill="url(#rb)"/><rect x="481.3" y="207.66" width="4.9" height="17.4" fill="#1f6fc0"/><rect x="490.7" y="210.06" width="4.9" height="12.6" fill="#8c8c8c"/><rect x="500.7" y="210.06" width="4.9" height="12.6" fill="#d42222"/><rect x="515.7" y="209.66" width="1.7" height="15.4" fill="#9c7a22"/>
<line x1="403.47" y1="386.41" x2="479.18" y2="386.41" stroke="#9b9b9b" stroke-width="4.4" stroke-linecap="round"/><circle cx="403.47" cy="386.41" r="3.9" fill="#7abb7a"/><circle cx="479.18" cy="386.41" r="3.9" fill="#7abb7a"/><line x1="407.47" y1="386.41" x2="415.47" y2="386.41" stroke="#9b9b9b" stroke-width="4.4"/><line x1="475.18" y1="386.41" x2="467.18" y2="386.41" stroke="#9b9b9b" stroke-width="4.4"/><path d="M420.02,377.71 L427.02,377.71 C430.02,377.71 430.02,380.11 433.02,380.11 L449.62,380.11 C452.62,380.11 452.62,377.71 455.62,377.71 L462.62,377.71 Q464.62,377.71 464.62,379.71 L464.62,393.11 Q464.62,395.11 462.62,395.11 L455.62,395.11 C452.62,395.11 452.62,392.71 449.62,392.71 L433.02,392.71 C430.02,392.71 430.02,395.11 427.02,395.11 L420.02,395.11 Q418.02,395.11 418.02,393.11 L418.02,379.71 Q418.02,377.71 420.02,377.71 Z" fill="url(#rb)"/><rect x="424.52" y="377.71" width="4.9" height="17.4" fill="#1f6fc0"/><rect x="433.92" y="380.11" width="4.9" height="12.6" fill="#8c8c8c"/><rect x="443.92" y="380.11" width="4.9" height="12.6" fill="#d42222"/><rect x="458.93" y="379.71" width="1.7" height="15.4" fill="#9c7a22"/>
</g>
<g><rect x="286.03" y="248.85" width="7.8" height="12" rx="3.6" fill="#5cb85c"/><rect x="286.03" y="303.83" width="7.8" height="12" rx="3.6" fill="#6fba6f"/><rect x="304.95" y="248.85" width="7.8" height="12" rx="3.6" fill="#5cb85c"/><rect x="304.95" y="303.83" width="7.8" height="12" rx="3.6" fill="#6fba6f"/><rect x="323.88" y="248.85" width="7.8" height="12" rx="3.6" fill="#5cb85c"/><rect x="323.88" y="303.83" width="7.8" height="12" rx="3.6" fill="#6fba6f"/><rect x="342.8" y="248.85" width="7.8" height="12" rx="3.6" fill="#5cb85c"/><rect x="342.8" y="303.83" width="7.8" height="12" rx="3.6" fill="#6fba6f"/><rect x="280.6" y="258.8" width="75.7" height="50" fill="#303030"/><rect x="280.6" y="304.8" width="75.7" height="4" fill="#0e0e0e"/><rect x="284.93" y="258.8" width="10" height="3" fill="#3a3a3a"/><rect x="284.93" y="304.8" width="10" height="4" fill="#2b2b2b"/><rect x="286.23" y="257.8" width="7.4" height="3" fill="#55a855"/><rect x="286.23" y="305.6" width="7.4" height="4" fill="#5fae5f"/><rect x="303.85" y="258.8" width="10" height="3" fill="#3a3a3a"/><rect x="303.85" y="304.8" width="10" height="4" fill="#2b2b2b"/><rect x="305.15" y="257.8" width="7.4" height="3" fill="#55a855"/><rect x="305.15" y="305.6" width="7.4" height="4" fill="#5fae5f"/><rect x="322.77" y="258.8" width="10" height="3" fill="#3a3a3a"/><rect x="322.77" y="304.8" width="10" height="4" fill="#2b2b2b"/><rect x="324.07" y="257.8" width="7.4" height="3" fill="#55a855"/><rect x="324.07" y="305.6" width="7.4" height="4" fill="#5fae5f"/><rect x="341.7" y="258.8" width="10" height="3" fill="#3a3a3a"/><rect x="341.7" y="304.8" width="10" height="4" fill="#2b2b2b"/><rect x="343" y="257.8" width="7.4" height="3" fill="#55a855"/><rect x="343" y="305.6" width="7.4" height="4" fill="#5fae5f"/><path d="M280.6,276 A6,6 0 0 1 280.6,288 Z" fill="#252525"/><circle cx="292.8" cy="296.9" r="3.3" fill="#262626"/><rect x="293" y="268" width="13.2" height="13.2" fill="#b9b9ab"/><path d="M295.2,270.2 L304.6,274.6 L295.2,279 Z" fill="#303030"/><text x="308.6" y="278.6" font-size="10.5" fill="#b8b8b8" textLength="24.4" lengthAdjust="spacingAndGlyphs">OP37</text></g>
<g><path d="M544.48,140 L544.48,143 C544.48,148 535.95,150.5 535.95,156 L535.95,178.58" fill="none" stroke="#9a9a9a" stroke-width="6.6" stroke-linejoin="round"/><rect x="532.75" y="156.58" width="6.4" height="22" fill="url(#leg)"/><circle cx="535.95" cy="178.78" r="3.5" fill="#6fae6f"/><path d="M554.88,140 L554.88,143 C554.88,148 554.88,150.5 554.88,156 L554.88,178.58" fill="none" stroke="#9a9a9a" stroke-width="6.6" stroke-linejoin="round"/><rect x="551.67" y="156.58" width="6.4" height="22" fill="url(#leg)"/><circle cx="554.88" cy="178.78" r="3.5" fill="#6fae6f"/><path d="M565.27,140 L565.27,143 C565.27,148 573.8,150.5 573.8,156 L573.8,178.58" fill="none" stroke="#9a9a9a" stroke-width="6.6" stroke-linejoin="round"/><rect x="570.6" y="156.58" width="6.4" height="22" fill="url(#leg)"/><circle cx="573.8" cy="178.78" r="3.5" fill="#6fae6f"/><path d="M537.38,139 L537.38,109.9 C537.38,99.9 544.88,96.9 554.88,96.9 C564.88,96.9 572.38,99.9 572.38,109.9 L572.38,139 Q572.38,142 569.38,142 L540.38,142 Q537.38,142 537.38,139 Z" fill="#141414"/><rect x="537.88" y="107.4" width="34" height="7.2" fill="#202020"/><text x="546.38" y="133.3" font-size="16.8" font-weight="bold" fill="#a2a2a2" stroke="#a2a2a2" stroke-width="1.7" stroke-linejoin="miter" textLength="17.4" lengthAdjust="spacingAndGlyphs">N</text><path d="M676.95,140 L676.95,143 C676.95,148 668.43,150.5 668.43,156 L668.43,178.58" fill="none" stroke="#9a9a9a" stroke-width="6.6" stroke-linejoin="round"/><rect x="665.23" y="156.58" width="6.4" height="22" fill="url(#leg)"/><circle cx="668.43" cy="178.78" r="3.5" fill="#6fae6f"/><path d="M687.35,140 L687.35,143 C687.35,148 687.35,150.5 687.35,156 L687.35,178.58" fill="none" stroke="#9a9a9a" stroke-width="6.6" stroke-linejoin="round"/><rect x="684.15" y="156.58" width="6.4" height="22" fill="url(#leg)"/><circle cx="687.35" cy="178.78" r="3.5" fill="#6fae6f"/><path d="M697.75,140 L697.75,143 C697.75,148 706.27,150.5 706.27,156 L706.27,178.58" fill="none" stroke="#9a9a9a" stroke-width="6.6" stroke-linejoin="round"/><rect x="703.07" y="156.58" width="6.4" height="22" fill="url(#leg)"/><circle cx="706.27" cy="178.78" r="3.5" fill="#6fae6f"/><path d="M669.85,139 L669.85,109.9 C669.85,99.9 677.35,96.9 687.35,96.9 C697.35,96.9 704.85,99.9 704.85,109.9 L704.85,139 Q704.85,142 701.85,142 L672.85,142 Q669.85,142 669.85,139 Z" fill="#141414"/><rect x="670.35" y="107.4" width="34" height="7.2" fill="#202020"/><text x="678.85" y="133.3" font-size="16.8" font-weight="bold" fill="#a2a2a2" stroke="#a2a2a2" stroke-width="1.7" stroke-linejoin="miter" textLength="17.4" lengthAdjust="spacingAndGlyphs">N</text><path d="M487.7,291.15 L487.7,294.15 C487.7,299.15 479.18,301.65 479.18,307.15 L479.18,329.73" fill="none" stroke="#9a9a9a" stroke-width="6.6" stroke-linejoin="round"/><rect x="475.98" y="307.73" width="6.4" height="22" fill="url(#leg)"/><circle cx="479.18" cy="329.93" r="3.5" fill="#6fae6f"/><path d="M498.1,291.15 L498.1,294.15 C498.1,299.15 498.1,301.65 498.1,307.15 L498.1,329.73" fill="none" stroke="#9a9a9a" stroke-width="6.6" stroke-linejoin="round"/><rect x="494.9" y="307.73" width="6.4" height="22" fill="url(#leg)"/><circle cx="498.1" cy="329.93" r="3.5" fill="#6fae6f"/><path d="M508.5,291.15 L508.5,294.15 C508.5,299.15 517.02,301.65 517.02,307.15 L517.02,329.73" fill="none" stroke="#9a9a9a" stroke-width="6.6" stroke-linejoin="round"/><rect x="513.82" y="307.73" width="6.4" height="22" fill="url(#leg)"/><circle cx="517.02" cy="329.93" r="3.5" fill="#6fae6f"/><path d="M480.6,290.15 L480.6,261.05 C480.6,251.05 488.1,248.05 498.1,248.05 C508.1,248.05 515.6,251.05 515.6,261.05 L515.6,290.15 Q515.6,293.15 512.6,293.15 L483.6,293.15 Q480.6,293.15 480.6,290.15 Z" fill="#141414"/><rect x="481.1" y="258.55" width="34" height="7.2" fill="#202020"/><text x="489.6" y="284.45" font-size="16.8" font-weight="bold" fill="#a2a2a2" stroke="#a2a2a2" stroke-width="1.7" stroke-linejoin="miter" textLength="17.4" lengthAdjust="spacingAndGlyphs">N</text></g>
<g><path d="M233.15,310.83 L233.15,235.26 L327.77,235.26" fill="none" stroke="#85631b" stroke-width="8.5" stroke-linecap="round" stroke-linejoin="round"/><path d="M233.15,310.83 L233.15,235.26 L327.77,235.26" fill="none" stroke="#ab822d" stroke-width="6.1" stroke-linecap="round" stroke-linejoin="round"/><circle cx="233.15" cy="235.26" r="4.5" fill="#85631b" fill-opacity="0.55"/><circle cx="233.15" cy="310.83" r="4.25" fill="#5f9a34" fill-opacity="0.8"/><circle cx="233.15" cy="310.83" r="3.4" fill="#74a038" fill-opacity="0.9"/><circle cx="327.77" cy="235.26" r="4.25" fill="#5f9a34" fill-opacity="0.8"/><circle cx="327.77" cy="235.26" r="3.4" fill="#74a038" fill-opacity="0.9"/><path d="M384.55,310.83 L422.4,310.83 L422.4,235.26 L554.88,235.26" fill="none" stroke="#85631b" stroke-width="8.5" stroke-linecap="round" stroke-linejoin="round"/><path d="M384.55,310.83 L422.4,310.83 L422.4,235.26 L554.88,235.26" fill="none" stroke="#ab822d" stroke-width="6.1" stroke-linecap="round" stroke-linejoin="round"/><circle cx="422.4" cy="310.83" r="4.5" fill="#85631b" fill-opacity="0.55"/><circle cx="422.4" cy="235.26" r="4.5" fill="#85631b" fill-opacity="0.55"/><circle cx="384.55" cy="310.83" r="4.25" fill="#5f9a34" fill-opacity="0.8"/><circle cx="384.55" cy="310.83" r="3.4" fill="#74a038" fill-opacity="0.9"/><circle cx="554.88" cy="235.26" r="4.25" fill="#5f9a34" fill-opacity="0.8"/><circle cx="554.88" cy="235.26" r="3.4" fill="#74a038" fill-opacity="0.9"/><path d="M327.77,216.36 L403.47,216.36 L403.47,348.62 L498.1,348.62" fill="none" stroke="#85631b" stroke-width="8.5" stroke-linecap="round" stroke-linejoin="round"/><path d="M327.77,216.36 L403.47,216.36 L403.47,348.62 L498.1,348.62" fill="none" stroke="#ab822d" stroke-width="6.1" stroke-linecap="round" stroke-linejoin="round"/><circle cx="403.47" cy="216.36" r="4.5" fill="#85631b" fill-opacity="0.55"/><circle cx="403.47" cy="348.62" r="4.5" fill="#85631b" fill-opacity="0.55"/><circle cx="327.77" cy="216.36" r="4.25" fill="#5f9a34" fill-opacity="0.8"/><circle cx="327.77" cy="216.36" r="3.4" fill="#74a038" fill-opacity="0.9"/><circle cx="498.1" cy="348.62" r="4.25" fill="#5f9a34" fill-opacity="0.8"/><circle cx="498.1" cy="348.62" r="3.4" fill="#74a038" fill-opacity="0.9"/><path d="M460.25,254.15 L460.25,367.52 L403.47,367.52" fill="none" stroke="#85631b" stroke-width="8.5" stroke-linecap="round" stroke-linejoin="round"/><path d="M460.25,254.15 L460.25,367.52 L403.47,367.52" fill="none" stroke="#ab822d" stroke-width="6.1" stroke-linecap="round" stroke-linejoin="round"/><circle cx="460.25" cy="367.52" r="4.5" fill="#85631b" fill-opacity="0.55"/><circle cx="460.25" cy="254.15" r="4.25" fill="#5f9a34" fill-opacity="0.8"/><circle cx="460.25" cy="254.15" r="3.4" fill="#74a038" fill-opacity="0.9"/><circle cx="403.47" cy="367.52" r="4.25" fill="#5f9a34" fill-opacity="0.8"/><circle cx="403.47" cy="367.52" r="3.4" fill="#74a038" fill-opacity="0.9"/><path d="M573.8,235.26 L668.42,235.26" fill="none" stroke="#85631b" stroke-width="8.5" stroke-linecap="round" stroke-linejoin="round"/><path d="M573.8,235.26 L668.42,235.26" fill="none" stroke="#ab822d" stroke-width="6.1" stroke-linecap="round" stroke-linejoin="round"/><circle cx="573.8" cy="235.26" r="4.25" fill="#5f9a34" fill-opacity="0.8"/><circle cx="573.8" cy="235.26" r="3.4" fill="#74a038" fill-opacity="0.9"/><circle cx="668.42" cy="235.26" r="4.25" fill="#5f9a34" fill-opacity="0.8"/><circle cx="668.42" cy="235.26" r="3.4" fill="#74a038" fill-opacity="0.9"/><path d="M573.8,254.15 L573.8,348.62 L517.02,348.62" fill="none" stroke="#85631b" stroke-width="8.5" stroke-linecap="round" stroke-linejoin="round"/><path d="M573.8,254.15 L573.8,348.62 L517.02,348.62" fill="none" stroke="#ab822d" stroke-width="6.1" stroke-linecap="round" stroke-linejoin="round"/><circle cx="573.8" cy="348.62" r="4.5" fill="#85631b" fill-opacity="0.55"/><circle cx="573.8" cy="254.15" r="4.25" fill="#5f9a34" fill-opacity="0.8"/><circle cx="573.8" cy="254.15" r="3.4" fill="#74a038" fill-opacity="0.9"/><circle cx="517.02" cy="348.62" r="4.25" fill="#5f9a34" fill-opacity="0.8"/><circle cx="517.02" cy="348.62" r="3.4" fill="#74a038" fill-opacity="0.9"/><path d="M196.1,40.6 L195.4,367.92 L346.7,367.92" fill="none" stroke="#823a7e" stroke-width="8.5" stroke-linecap="round" stroke-linejoin="round"/><path d="M196.1,40.6 L195.4,367.92 L346.7,367.92" fill="none" stroke="#ad57a6" stroke-width="6.1" stroke-linecap="round" stroke-linejoin="round"/><circle cx="195.4" cy="367.92" r="4.5" fill="#823a7e" fill-opacity="0.55"/><circle cx="196.1" cy="40.6" r="5.4" fill="#7fd07f" fill-opacity="0.3"/><circle cx="196.1" cy="40.6" r="4.25" fill="#5f7a5c" fill-opacity="0.8"/><circle cx="196.1" cy="40.6" r="3.4" fill="#727a70" fill-opacity="0.9"/><circle cx="346.7" cy="367.92" r="4.25" fill="#5f7a5c" fill-opacity="0.8"/><circle cx="346.7" cy="367.92" r="3.4" fill="#727a70" fill-opacity="0.9"/><path d="M365.75,35.35 L365.75,121.89" fill="none" stroke="#9d181d" stroke-width="8.5" stroke-linecap="round" stroke-linejoin="round"/><path d="M365.75,35.35 L365.75,121.89" fill="none" stroke="#d0232a" stroke-width="6.1" stroke-linecap="round" stroke-linejoin="round"/><circle cx="365.75" cy="35.35" r="5.4" fill="#7fd07f" fill-opacity="0.3"/><circle cx="365.75" cy="35.35" r="4.25" fill="#8a5a22" fill-opacity="0.8"/><circle cx="365.75" cy="35.35" r="3.4" fill="#b85a2a" fill-opacity="0.9"/><circle cx="365.75" cy="121.89" r="4.25" fill="#8a5a22" fill-opacity="0.8"/><circle cx="365.75" cy="121.89" r="3.4" fill="#b85a2a" fill-opacity="0.9"/><path d="M309.25,121.89 L309.25,178.58" fill="none" stroke="#9d181d" stroke-width="8.5" stroke-linecap="round" stroke-linejoin="round"/><path d="M309.25,121.89 L309.25,178.58" fill="none" stroke="#d0232a" stroke-width="6.1" stroke-linecap="round" stroke-linejoin="round"/><circle cx="309.25" cy="121.89" r="4.25" fill="#8a5a22" fill-opacity="0.8"/><circle cx="309.25" cy="121.89" r="3.4" fill="#b85a2a" fill-opacity="0.9"/><circle cx="309.25" cy="178.58" r="4.25" fill="#8a5a22" fill-opacity="0.8"/><circle cx="309.25" cy="178.58" r="3.4" fill="#b85a2a" fill-opacity="0.9"/><path d="M460.65,121.89 L460.65,178.58" fill="none" stroke="#9d181d" stroke-width="8.5" stroke-linecap="round" stroke-linejoin="round"/><path d="M460.65,121.89 L460.65,178.58" fill="none" stroke="#d0232a" stroke-width="6.1" stroke-linecap="round" stroke-linejoin="round"/><circle cx="460.65" cy="121.89" r="4.25" fill="#8a5a22" fill-opacity="0.8"/><circle cx="460.65" cy="121.89" r="3.4" fill="#b85a2a" fill-opacity="0.9"/><circle cx="460.65" cy="178.58" r="4.25" fill="#8a5a22" fill-opacity="0.8"/><circle cx="460.65" cy="178.58" r="3.4" fill="#b85a2a" fill-opacity="0.9"/><path d="M498.25,33.85 L498.25,197.47 L535.95,197.47" fill="none" stroke="#c05612" stroke-width="8.5" stroke-linecap="round" stroke-linejoin="round"/><path d="M498.25,33.85 L498.25,197.47 L535.95,197.47" fill="none" stroke="#ec7322" stroke-width="6.1" stroke-linecap="round" stroke-linejoin="round"/><circle cx="498.25" cy="197.47" r="4.5" fill="#c05612" fill-opacity="0.55"/><circle cx="498.25" cy="33.85" r="5.4" fill="#7fd07f" fill-opacity="0.3"/><circle cx="498.25" cy="33.85" r="4.25" fill="#9a8a2a" fill-opacity="0.8"/><circle cx="498.25" cy="33.85" r="3.4" fill="#b98a2c" fill-opacity="0.9"/><circle cx="535.95" cy="197.47" r="4.25" fill="#9a8a2a" fill-opacity="0.8"/><circle cx="535.95" cy="197.47" r="3.4" fill="#b98a2c" fill-opacity="0.9"/><path d="M592.6,35.4 L592.6,197.47 L554.88,197.47" fill="none" stroke="#d2cb28" stroke-width="8.5" stroke-linecap="round" stroke-linejoin="round"/><path d="M592.6,35.4 L592.6,197.47 L554.88,197.47" fill="none" stroke="#f7f03d" stroke-width="6.1" stroke-linecap="round" stroke-linejoin="round"/><circle cx="592.6" cy="197.47" r="4.5" fill="#d2cb28" fill-opacity="0.55"/><circle cx="592.6" cy="35.4" r="5.4" fill="#7fd07f" fill-opacity="0.3"/><circle cx="592.6" cy="35.4" r="4.25" fill="#9bd03a" fill-opacity="0.8"/><circle cx="592.6" cy="35.4" r="3.4" fill="#c3de36" fill-opacity="0.9"/><circle cx="554.88" cy="197.47" r="4.25" fill="#9bd03a" fill-opacity="0.8"/><circle cx="554.88" cy="197.47" r="3.4" fill="#c3de36" fill-opacity="0.9"/><path d="M632.5,33.85 L632.5,216.36 L687.35,216.36" fill="none" stroke="#2760ac" stroke-width="8.5" stroke-linecap="round" stroke-linejoin="round"/><path d="M632.5,33.85 L632.5,216.36 L687.35,216.36" fill="none" stroke="#4b8dd6" stroke-width="6.1" stroke-linecap="round" stroke-linejoin="round"/><circle cx="632.5" cy="216.36" r="4.5" fill="#2760ac" fill-opacity="0.55"/><circle cx="632.5" cy="33.85" r="5.4" fill="#7fd07f" fill-opacity="0.3"/><circle cx="632.5" cy="33.85" r="4.25" fill="#1f9a9a" fill-opacity="0.8"/><circle cx="632.5" cy="33.85" r="3.4" fill="#2aa8b8" fill-opacity="0.9"/><circle cx="687.35" cy="216.36" r="4.25" fill="#1f9a9a" fill-opacity="0.8"/><circle cx="687.35" cy="216.36" r="3.4" fill="#2aa8b8" fill-opacity="0.9"/><path d="M725.5,38.1 L725.5,197.47 L687.35,197.47" fill="none" stroke="#d2cb28" stroke-width="8.5" stroke-linecap="round" stroke-linejoin="round"/><path d="M725.5,38.1 L725.5,197.47 L687.35,197.47" fill="none" stroke="#f7f03d" stroke-width="6.1" stroke-linecap="round" stroke-linejoin="round"/><circle cx="725.5" cy="197.47" r="4.5" fill="#d2cb28" fill-opacity="0.55"/><circle cx="725.5" cy="38.1" r="5.4" fill="#7fd07f" fill-opacity="0.3"/><circle cx="725.5" cy="38.1" r="4.25" fill="#9bd03a" fill-opacity="0.8"/><circle cx="725.5" cy="38.1" r="3.4" fill="#c3de36" fill-opacity="0.9"/><circle cx="687.35" cy="197.47" r="4.25" fill="#9bd03a" fill-opacity="0.8"/><circle cx="687.35" cy="197.47" r="3.4" fill="#c3de36" fill-opacity="0.9"/><path d="M764.8,39.7 L763.2,443.09" fill="none" stroke="#0c0c0c" stroke-width="8.5" stroke-linecap="round" stroke-linejoin="round"/><path d="M764.8,39.7 L763.2,443.09" fill="none" stroke="#3c3c3c" stroke-width="6.1" stroke-linecap="round" stroke-linejoin="round"/><circle cx="764.8" cy="39.7" r="5.4" fill="#7fd07f" fill-opacity="0.3"/><circle cx="764.8" cy="39.7" r="4.25" fill="#1c5a20" fill-opacity="0.8"/><circle cx="764.8" cy="39.7" r="3.4" fill="#245a28" fill-opacity="0.9"/><circle cx="763.2" cy="443.09" r="4.25" fill="#1c5a20" fill-opacity="0.8"/><circle cx="763.2" cy="443.09" r="3.4" fill="#245a28" fill-opacity="0.9"/><path d="M801.2,38.1 L801.2,443.09" fill="none" stroke="#c05612" stroke-width="8.5" stroke-linecap="round" stroke-linejoin="round"/><path d="M801.2,38.1 L801.2,443.09" fill="none" stroke="#ec7322" stroke-width="6.1" stroke-linecap="round" stroke-linejoin="round"/><circle cx="801.2" cy="38.1" r="5.4" fill="#7fd07f" fill-opacity="0.3"/><circle cx="801.2" cy="38.1" r="4.25" fill="#9a8a2a" fill-opacity="0.8"/><circle cx="801.2" cy="38.1" r="3.4" fill="#b98a2c" fill-opacity="0.9"/><circle cx="801.2" cy="443.09" r="4.25" fill="#9a8a2a" fill-opacity="0.8"/><circle cx="801.2" cy="443.09" r="3.4" fill="#b98a2c" fill-opacity="0.9"/><path d="M839.5,38.85 L839.3,443.09" fill="none" stroke="#2760ac" stroke-width="8.5" stroke-linecap="round" stroke-linejoin="round"/><path d="M839.5,38.85 L839.3,443.09" fill="none" stroke="#4b8dd6" stroke-width="6.1" stroke-linecap="round" stroke-linejoin="round"/><circle cx="839.5" cy="38.85" r="5.4" fill="#7fd07f" fill-opacity="0.3"/><circle cx="839.5" cy="38.85" r="4.25" fill="#1f9a9a" fill-opacity="0.8"/><circle cx="839.5" cy="38.85" r="3.4" fill="#2aa8b8" fill-opacity="0.9"/><circle cx="839.3" cy="443.09" r="4.25" fill="#1f9a9a" fill-opacity="0.8"/><circle cx="839.3" cy="443.09" r="3.4" fill="#2aa8b8" fill-opacity="0.9"/><path d="M706.27,254.15 L706.27,443.09" fill="none" stroke="#0c0c0c" stroke-width="8.5" stroke-linecap="round" stroke-linejoin="round"/><path d="M706.27,254.15 L706.27,443.09" fill="none" stroke="#3c3c3c" stroke-width="6.1" stroke-linecap="round" stroke-linejoin="round"/><circle cx="706.27" cy="254.15" r="4.25" fill="#1c5a20" fill-opacity="0.8"/><circle cx="706.27" cy="254.15" r="3.4" fill="#245a28" fill-opacity="0.9"/><circle cx="706.27" cy="443.09" r="4.25" fill="#1c5a20" fill-opacity="0.8"/><circle cx="706.27" cy="443.09" r="3.4" fill="#245a28" fill-opacity="0.9"/><path d="M327.88,386.41 L327.88,443.09" fill="none" stroke="#0c0c0c" stroke-width="8.5" stroke-linecap="round" stroke-linejoin="round"/><path d="M327.88,386.41 L327.88,443.09" fill="none" stroke="#3c3c3c" stroke-width="6.1" stroke-linecap="round" stroke-linejoin="round"/><circle cx="327.88" cy="386.41" r="4.25" fill="#1c5a20" fill-opacity="0.8"/><circle cx="327.88" cy="386.41" r="3.4" fill="#245a28" fill-opacity="0.9"/><circle cx="327.88" cy="443.09" r="4.25" fill="#1c5a20" fill-opacity="0.8"/><circle cx="327.88" cy="443.09" r="3.4" fill="#245a28" fill-opacity="0.9"/></g>
<g font-size="16.5" font-weight="bold" fill="#0b0b1d" stroke="#0b0b1d" stroke-width="0.6" stroke-linejoin="round">
<text x="186.79" y="23.4" textLength="20.19" lengthAdjust="spacingAndGlyphs">Vn</text>
<text x="355.99" y="23.4" textLength="20.15" lengthAdjust="spacingAndGlyphs">Vp</text>
<text x="490.24" y="23.4" textLength="15.52" lengthAdjust="spacingAndGlyphs">1+</text>
<text x="582.29" y="23.4" textLength="22.13" lengthAdjust="spacingAndGlyphs">W1</text>
<text x="622.21" y="23.4" textLength="19.18" lengthAdjust="spacingAndGlyphs">2+</text>
<text x="714.08" y="23.4" textLength="23.75" lengthAdjust="spacingAndGlyphs">W2</text>
<text x="748.49" y="23.4" textLength="33.14" lengthAdjust="spacingAndGlyphs">GND</text>
<text x="794.31" y="23.4" textLength="14.02" lengthAdjust="spacingAndGlyphs">1-</text>
<text x="830.91" y="23.4" textLength="17.58" lengthAdjust="spacingAndGlyphs">2-</text>
<text x="511.29" y="154.8" textLength="18.79" lengthAdjust="spacingAndGlyphs">M1</text>
<text x="639.69" y="155.2" textLength="23.12" lengthAdjust="spacingAndGlyphs">M3</text>
<text x="521.19" y="286.8" textLength="22.97" lengthAdjust="spacingAndGlyphs">M2</text>
<text x="443.25" y="212.8" textLength="16.21" lengthAdjust="spacingAndGlyphs">R1</text>
<text x="429.14" y="409.5" textLength="22.05" lengthAdjust="spacingAndGlyphs">R2</text>
<text transform="translate(201.26,360.6) scale(0.9,1)" x="0 8.6 11.3 22.0" y="0">1 kΩ</text>
<text transform="translate(351.26,360.6) scale(0.9,1)" x="0 8.6 11.3 22.0" y="0">1 kΩ</text>
</g>
</svg>
</body></html>
